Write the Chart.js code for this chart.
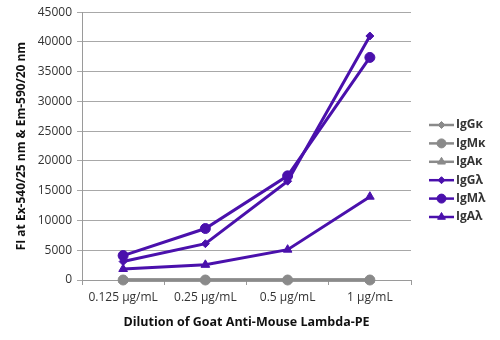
<!DOCTYPE html>
<html lang="en">
<head>
    <meta charset="UTF-8">
    <script src="https://cdn.jsdelivr.net/npm/chart.js"></script>
    <title>Dilution of Goat Anti-Mouse Lambda-PE</title>
    <style>
        body { margin: 0; background: #fff; }
        #grafico_wrap { width: 500px; height: 340px; }
    </style>
</head>
<body>
    <div id="grafico_wrap">
        <canvas id="grafico_diluicao"></canvas>
    </div>

<script>

    // dados
    const diluicoes = ['0.125 µg/mL', '0.25 µg/mL', '0.5 µg/mL', '1 µg/mL'];
    const nomesSeries = ['IgGκ', 'IgMκ', 'IgAκ', 'IgGλ', 'IgMλ', 'IgAλ'];
    const igGk = [0, 0, 0, 0];
    const igMk = [0, 0, 0, 0];
    const igAk = [0, 0, 0, 0];
    const igGl = [3100, 6100, 16600, 41000];
    const igMl = [4100, 8650, 17500, 37400];
    const igAl = [1850, 2550, 5100, 14000];
    const ticksY = [0, 5000, 10000, 15000, 20000, 25000, 30000, 35000, 40000, 45000];

    const roxo = '#4a10ac';
    const cinza = '#8a8a8a';

    function serie(nome, valores, cor, estilo, raio) {
        return {
            label: nome,
            data: valores,
            borderColor: cor,
            backgroundColor: cor,
            borderWidth: 3,
            pointStyle: estilo,
            pointRadius: raio,
            pointHoverRadius: raio,
            pointBorderWidth: 1,
            tension: 0,
            clip: false
        };
    }

    const datasets = [
        serie(nomesSeries[3], igGl, roxo, 'rectRot', 4),
        serie(nomesSeries[4], igMl, roxo, 'circle', 5),
        serie(nomesSeries[5], igAl, roxo, 'triangle', 5),
        serie(nomesSeries[0], igGk, cinza, 'rectRot', 4),
        serie(nomesSeries[1], igMk, cinza, 'circle', 5),
        serie(nomesSeries[2], igAk, cinza, 'triangle', 5)
    ];

    // legenda desenhada à mão: linha + marcador + texto, na ordem da figura
    const legendaLinha = {
        id: 'legendaLinha',
        afterDraw(chart) {
            const ctx = chart.ctx;
            const ordem = [3, 4, 5, 0, 1, 2];
            ctx.save();
            ordem.forEach((idx, i) => {
                const ds = chart.data.datasets[idx];
                const y = 125 + i * 18.4;
                ctx.strokeStyle = ds.borderColor;
                ctx.fillStyle = ds.backgroundColor;
                ctx.lineWidth = 2.5;
                ctx.beginPath();
                ctx.moveTo(429, y);
                ctx.lineTo(454, y);
                ctx.stroke();
                ctx.lineWidth = 1;
                Chart.helpers.drawPoint(ctx, {
                    pointStyle: ds.pointStyle,
                    radius: ds.pointRadius - 0.5,
                    borderWidth: 1,
                    rotation: 0
                }, 441.5, y);
                ctx.fillStyle = '#333';
                ctx.font = 'bold 12px "Open Sans"';
                ctx.textBaseline = 'middle';
                ctx.textAlign = 'left';
                ctx.fillText(ds.label, 456, y);
            });
            ctx.restore();
        }
    };

    new Chart(document.getElementById('grafico_diluicao'), {
        type: 'line',
        data: {
            labels: diluicoes,
            datasets: datasets
        },
        options: {
            responsive: true,
            maintainAspectRatio: false,
            animation: false,
            layout: { padding: { top: 11, right: 89, bottom: 10, left: 14 } },
            plugins: {
                legend: { display: false },
                tooltip: { enabled: false }
            },
            scales: {
                x: {
                    offset: true,
                    grid: {
                        offset: true,
                        drawOnChartArea: false,
                        drawTicks: true,
                        tickLength: 5,
                        color: '#9a9a9a'
                    },
                    border: { color: '#9a9a9a', width: 1 },
                    ticks: {
                        color: '#333',
                        font: { family: 'Open Sans', size: 12 },
                        padding: 5,
                        maxRotation: 0
                    },
                    title: {
                        display: true,
                        text: 'Dilution of Goat Anti-Mouse Lambda-PE',
                        color: '#111',
                        font: { family: 'Open Sans', size: 12.5, weight: 'bold' },
                        padding: { top: 8, bottom: 0 }
                    },
                    afterFit(scale) { scale.height = 50; }
                },
                y: {
                    min: 0,
                    max: 45000,
                    afterBuildTicks(scale) {
                        scale.ticks = ticksY.map(v => ({ value: v }));
                    },
                    grid: {
                        color: '#a8a8a8',
                        tickLength: 5,
                        lineWidth: 1
                    },
                    border: { color: '#9a9a9a', width: 1 },
                    ticks: {
                        color: '#333',
                        font: { family: 'Open Sans', size: 12 },
                        padding: 5,
                        callback: v => String(v)
                    },
                    title: {
                        display: true,
                        text: 'FI at Ex-540/25 nm & Em-590/20 nm',
                        color: '#111',
                        font: { family: 'Open Sans', size: 12, weight: 'bold' },
                        padding: { top: 0, bottom: 2 }
                    },
                    afterFit(scale) { scale.width = 68; }
                }
            }
        },
        plugins: [legendaLinha]
    });

</script>
</body>
</html>
